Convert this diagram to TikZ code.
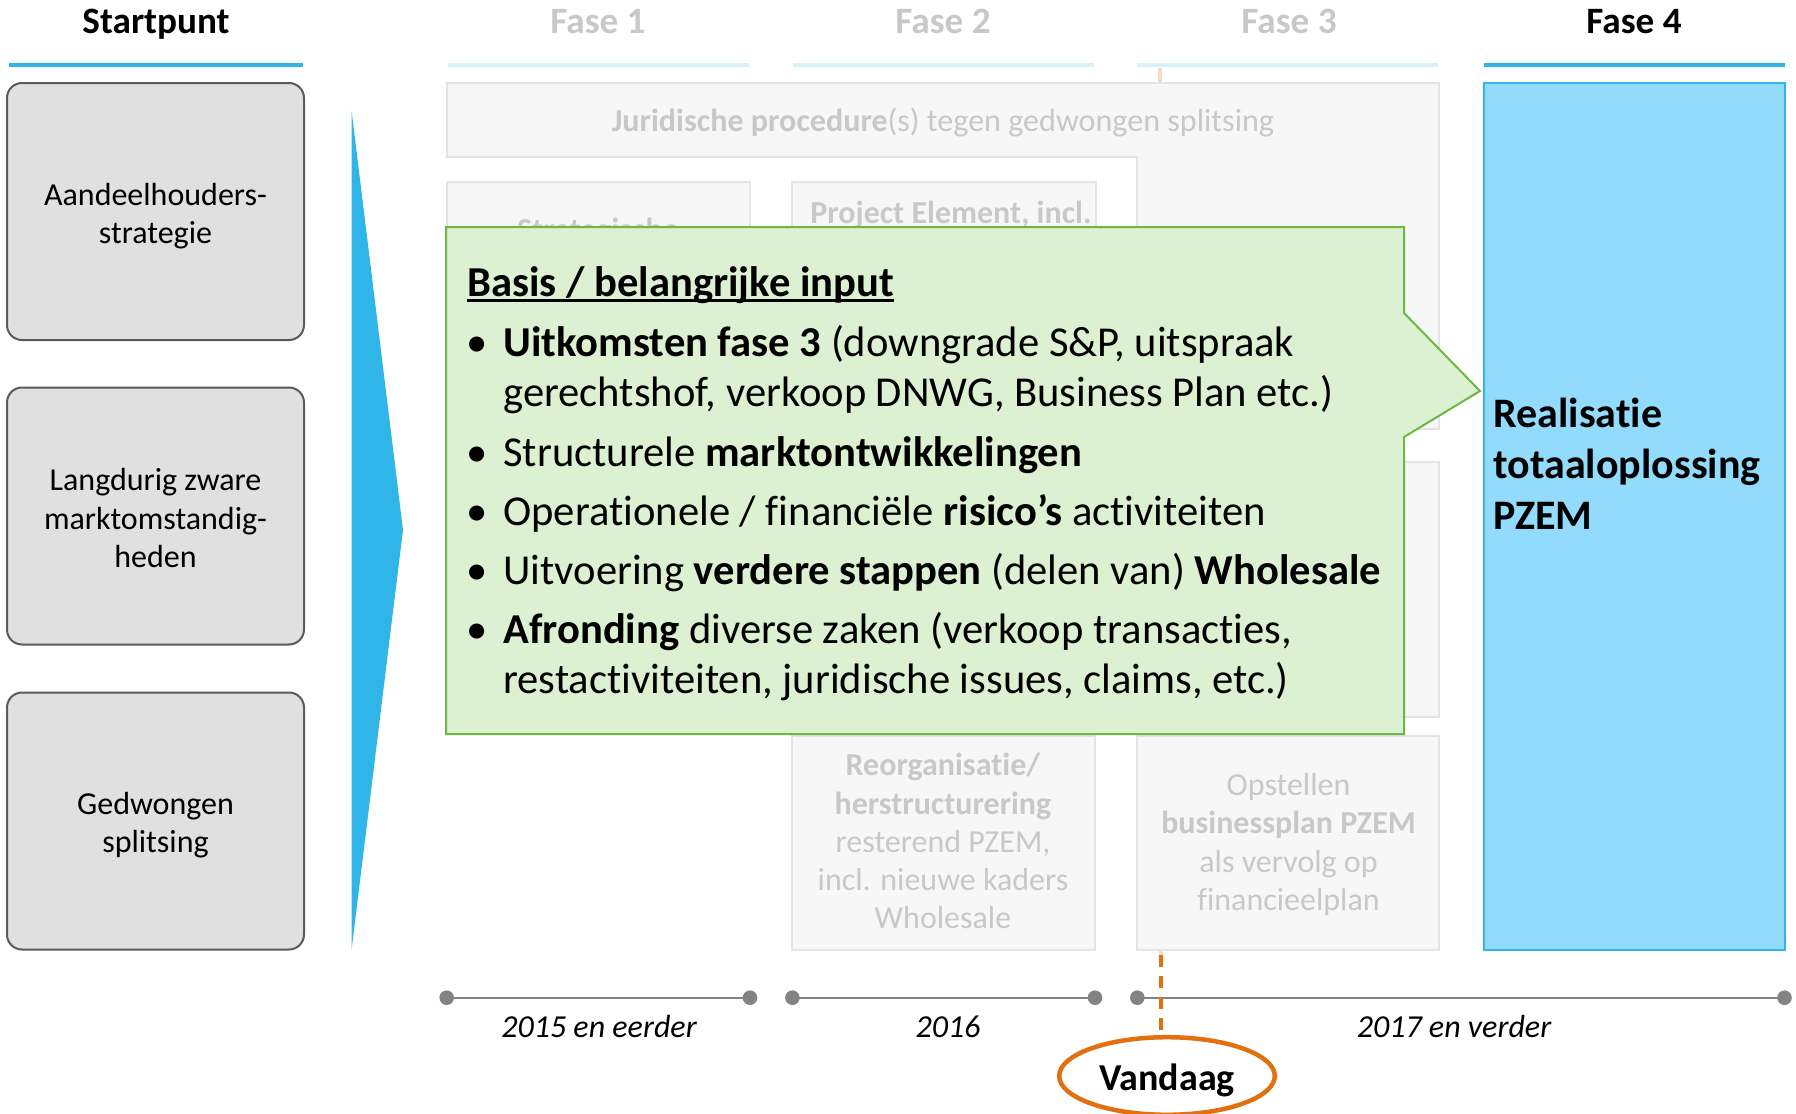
\documentclass[tikz,border=0pt]{standalone}
\usepackage{fontspec}
\setmainfont{Carlito}[RawFeature={-liga;-clig;-dlig;-calt}]
\usetikzlibrary{shapes.geometric}
\definecolor{cyanM}{HTML}{30B5E8}
\definecolor{headerlight}{HTML}{D8F0FA}
\definecolor{fadetext}{HTML}{C8C8C8}
\definecolor{fadefill}{HTML}{F7F7F7}
\definecolor{fadedraw}{HTML}{E4E4E4}
\definecolor{leftfill}{HTML}{E0E0E0}
\definecolor{leftdraw}{HTML}{5A5A5A}
\definecolor{greenfill}{HTML}{DCF0D2}
\definecolor{greendraw}{HTML}{6CB843}
\definecolor{fasefill}{HTML}{93DBFC}
\definecolor{orangeM}{HTML}{E2700F}
\definecolor{orangeL}{HTML}{F8DCC2}
\definecolor{tlgray}{HTML}{838383}
\begin{document}
\begin{tikzpicture}[x=0.5pt,y=-0.5pt,
  hdr/.style={anchor=base, inner sep=0, font=\fontsize{18.6}{22}\selectfont\bfseries},
  hdrline/.style={line width=2.35pt},
  leftbox/.style={draw=leftdraw, fill=leftfill, line width=1pt, rounded corners=7.5pt,
    minimum width=148.5pt, minimum height=128.5pt, inner sep=0},
  lefttxt/.style={align=center, inner sep=0, font=\fontsize{16}{19.2}\selectfont},
  fadebox/.style={draw=fadedraw, fill=fadefill, line width=0.8pt},
  fadetxt/.style={anchor=base, inner sep=0, text=fadetext, font=\fontsize{16}{19}\selectfont},
  body/.style={anchor=base west, inner sep=0, font=\fontsize{21.3}{25}\selectfont},
  bul/.style={anchor=base, inner sep=0, font=\fontsize{21.3}{25}\selectfont},
  realtxt/.style={anchor=base west, inner sep=0, font=\fontsize{21}{25}\selectfont\bfseries},
  tldot/.style={circle, fill=tlgray, minimum size=7.3pt, inner sep=0},
  tlline/.style={draw=tlgray, line width=1pt},
  tllabel/.style={anchor=base, inner sep=0, font=\fontsize{16}{20}\selectfont\itshape},
]
\useasboundingbox (0,0) rectangle (1796,1114);

% headers
\node[hdr] (hs) at (156,33) {Startpunt};
\node[hdr, text=fadetext] (h1) at (598,33) {Fase 1};
\node[hdr, text=fadetext] (h2) at (943,33) {Fase 2};
\node[hdr, text=fadetext] (h3) at (1289,33) {Fase 3};
\node[hdr] (h4) at (1634,33) {Fase 4};
\draw[hdrline, cyanM] (9,65) -- (302.5,65);
\draw[hdrline, headerlight] (448,65) -- (749,65);
\draw[hdrline, headerlight] (793,65) -- (1094,65);
\draw[hdrline, headerlight] (1137,65) -- (1438,65);
\draw[hdrline, cyanM] (1484,65) -- (1785,65);

% left boxes
\node[leftbox] (lb1) at (155.5,211.5) {};
\node[leftbox] (lb2) at (155.5,516) {};
\node[leftbox] (lb3) at (155.5,821) {};
\node[lefttxt] (lt1) at (155.5,216) {Aandeelhouders-\\strategie};
\node[lefttxt] (lt2) at (155.5,518) {Langdurig zware\\marktomstandig-\\heden};
\node[lefttxt] (lt3) at (155.5,825) {Gedwongen\\splitsing};

% blue wedge
\fill[cyanM] (351.6,111) -- (403,530) -- (351.6,949.5) -- cycle;

% faint orange line at top
\draw[orangeL, line width=2.25pt] (1160,68) -- (1160,84);

% faded boxes
\path[fadebox] (447,83) -- (1439,83) -- (1439,429) -- (1137,429) -- (1137,157) -- (447,157) -- cycle;
\node[fadetxt, font=\fontsize{16.05}{20}\selectfont] (jur) at (943,131) {\textbf{Juridische procedure}(s) tegen gedwongen splitsing};
\path[fadebox] (447,182) rectangle (750,420);
\node[fadetxt, font=\fontsize{16}{19}\selectfont\bfseries] (strat) at (598,240) {Strategische};
\path[fadebox] (792,182) rectangle (1096,420);
\node[fadetxt, font=\fontsize{16}{19}\selectfont\bfseries] (proj) at (951,223) {Project Element, incl.};
\path[fadebox] (1137,462) rectangle (1439,717);
\path[fadebox] (792,736) rectangle (1095,950);
\path[fadebox] (1137,736) rectangle (1439,950);
\node[fadetxt] (r1) at (943,775) {\textbf{Reorganisatie/}};
\node[fadetxt] (r2) at (943,814) {\textbf{herstructurering}};
\node[fadetxt] (r3) at (943,852) {resterend PZEM,};
\node[fadetxt] (r4) at (943,890) {incl. nieuwe kaders};
\node[fadetxt] (r5) at (943,928) {Wholesale};
\node[fadetxt] (o1) at (1288.5,795) {Opstellen};
\node[fadetxt] (o2) at (1288.5,833.5) {\textbf{businessplan PZEM}};
\node[fadetxt] (o3) at (1288.5,872) {als vervolg op};
\node[fadetxt] (o4) at (1288.5,910) {financieelplan};

% green callout
\path[draw=greendraw, fill=greenfill, line width=1pt, line join=miter]
  (446,227) -- (1404,227) -- (1404,313) -- (1480,391) -- (1404,437) -- (1404,734) -- (446,734) -- cycle;
\node[body, font=\fontsize{21.3}{25}\selectfont\bfseries] (basis) at (467,296) {Basis / belangrijke input};
\draw[line width=1.3pt] ([yshift=-2.3pt]basis.base west) -- ([yshift=-2.3pt]basis.base east);
\node[bul] (b1) at (477,356) {•};
\node[body] (t1) at (503,356) {\textbf{Uitkomsten fase 3} (downgrade S\&P, uitspraak};
\node[body] (t1b) at (503,406) {gerechtshof, verkoop DNWG, Business Plan etc.)};
\node[bul] (b2) at (477,466) {•};
\node[body] (t2) at (503,466) {Structurele \textbf{marktontwikkelingen}};
\node[bul] (b3) at (477,525) {•};
\node[body] (t3) at (503,525) {Operationele / financiële \textbf{risico’s} activiteiten};
\node[bul] (b4) at (477,584) {•};
\node[body] (t4) at (503,584) {Uitvoering \textbf{verdere stappen} (delen van) \textbf{Wholesale}};
\node[bul] (b5) at (477,643) {•};
\node[body] (t5) at (503,643) {\textbf{Afronding} diverse zaken (verkoop transacties,};
\node[body] (t5b) at (503,693) {restactiviteiten, juridische issues, claims, etc.)};

% fase 4
\path[draw=cyanM, fill=fasefill, line width=1pt] (1484,83) rectangle (1785,950);
\node[realtxt] (f4a) at (1493,427) {Realisatie};
\node[realtxt] (f4b) at (1493,478) {totaaloplossing};
\node[realtxt] (f4c) at (1493,529) {PZEM};

% timeline
\node[tldot] (d1) at (446.7,997.7) {};
\node[tldot] (d2) at (750,997.7) {};
\node[tldot] (d3) at (792.4,997.7) {};
\node[tldot] (d4) at (1095,997.7) {};
\node[tldot] (d5) at (1137.3,997.7) {};
\node[tldot] (d6) at (1784.5,997.7) {};
\draw[tlline] (d1.center) -- (d2.center);
\draw[tlline] (d3.center) -- (d4.center);
\draw[tlline] (d5.center) -- (d6.center);
\node[tllabel] (l1) at (599,1037) {2015 en eerder};
\node[tllabel] (l2) at (948,1037) {2016};
\node[tllabel] (l3) at (1454,1037) {2017 en verder};

% today marker
\coordinate (ot) at (1161,950);
\coordinate (od) at (1161,955);
\node[ellipse, draw=orangeM, fill=white, line width=2.25pt, minimum width=107.8pt, minimum height=38.8pt, inner sep=0] (vand) at (1167,1076) {};
\draw[orangeL, line width=1.75pt] (ot) -- (od);
\draw[orangeM, line width=1.75pt, dash pattern=on 6pt off 4.5pt] (od) -- (od |- vand.north);
\node[anchor=base, inner sep=0, font=\fontsize{19}{22}\selectfont\bfseries] (vandt) at (1167,1090) {Vandaag};
\end{tikzpicture}
\end{document}
